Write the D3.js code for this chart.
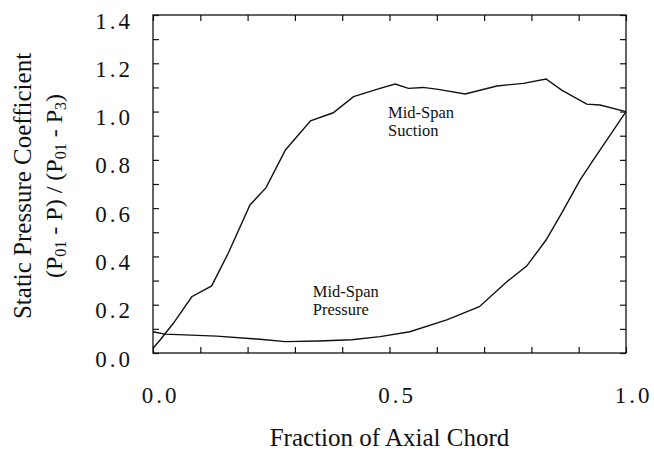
<!DOCTYPE html>
<html><head><meta charset="utf-8">
<script src="https://cdn.jsdelivr.net/npm/d3@7"></script>
<style>
html,body{margin:0;padding:0;background:#fff;}
svg{display:block;}
text{font-family:"Liberation Serif","Times New Roman",serif;fill:#111;}
</style></head>
<body><svg id="chart" width="654" height="459"></svg>
<script>
// Data
const suctionX = [0, 0.015, 0.043, 0.082, 0.124, 0.159, 0.205, 0.239, 0.28, 0.333, 0.381, 0.424, 0.48, 0.512, 0.54, 0.571, 0.603, 0.66, 0.727, 0.783, 0.831, 0.864, 0.917, 0.945, 1.0];
const suctionY = [0.02, 0.054, 0.123, 0.233, 0.278, 0.413, 0.613, 0.685, 0.841, 0.962, 0.995, 1.062, 1.096, 1.114, 1.096, 1.1, 1.092, 1.073, 1.106, 1.117, 1.135, 1.089, 1.031, 1.027, 1.0];
const pressureX = [0, 0.025, 0.135, 0.226, 0.28, 0.35, 0.42, 0.48, 0.543, 0.621, 0.69, 0.748, 0.79, 0.831, 0.864, 0.903, 0.931, 1.0];
const pressureY = [0.088, 0.078, 0.07, 0.057, 0.047, 0.05, 0.055, 0.068, 0.088, 0.137, 0.192, 0.295, 0.36, 0.468, 0.579, 0.717, 0.8, 1.0];
const xTickLabels = [0, 0.5, 1.0];
const yTickLabels = [0, 0.2, 0.4, 0.6, 0.8, 1.0, 1.2, 1.4];
const xMinorTicks = d3.range(0, 1.0001, 0.1);
const yMinorTicks = d3.range(0, 1.4001, 0.1);

const FONT = '"Liberation Serif","Times New Roman",serif';
const svg = d3.select("#chart");
const L = 153, R = 626, T = 15, B = 353;
const x = d3.scaleLinear().domain([0, 1]).range([L, R]);
const y = d3.scaleLinear().domain([0, 1.4]).range([B, T]);

// frame
svg.append("rect").attr("x", L).attr("y", T).attr("width", R - L).attr("height", B - T)
  .attr("fill", "none").attr("stroke", "#111").attr("stroke-width", 1.3);

// ticks (inward) on all four sides
function tickAxis(axis, transform) {
  const g = svg.append("g").attr("transform", transform).call(axis);
  g.select(".domain").remove();
  g.selectAll("line").attr("stroke", "#111").attr("stroke-width", 1.2);
  g.selectAll("text").remove();
  return g;
}
tickAxis(d3.axisBottom(x).tickValues(xMinorTicks).tickSize(-6), `translate(0,${B})`);
tickAxis(d3.axisTop(x).tickValues(xMinorTicks).tickSize(-6), `translate(0,${T})`);
tickAxis(d3.axisLeft(y).tickValues(yMinorTicks).tickSize(-6), `translate(${L},0)`);
tickAxis(d3.axisRight(y).tickValues(yMinorTicks).tickSize(-6), `translate(${R},0)`);

// tick labels
const xl = svg.append("g").attr("transform", `translate(0,${B})`)
  .call(d3.axisBottom(x).tickValues(xTickLabels).tickSize(0).tickFormat(d3.format(".1f")));
xl.select(".domain").remove();
xl.attr("font-family", FONT);
xl.selectAll("text").attr("y", 50).attr("dy", 0).attr("dx", 7)
  .style("font-family", FONT).style("font-size", "23px").style("letter-spacing", "3px").attr("fill", "#111");

const yl = svg.append("g").attr("transform", `translate(${L},0)`)
  .call(d3.axisLeft(y).tickValues(yTickLabels).tickSize(0).tickFormat(d3.format(".1f")));
yl.select(".domain").remove();
yl.attr("font-family", FONT);
yl.selectAll("text").attr("x", -20).attr("dy", 13)
  .style("font-family", FONT).style("font-size", "23px").style("letter-spacing", "3px").attr("fill", "#111");

// curves
const line = d3.line().x(d => x(d[0])).y(d => y(d[1]));
svg.append("path").datum(suctionX.map((v, i) => [v, suctionY[i]]))
  .attr("d", line).attr("fill", "none").attr("stroke", "#111").attr("stroke-width", 1.4);
svg.append("path").datum(pressureX.map((v, i) => [v, pressureY[i]]))
  .attr("d", line).attr("fill", "none").attr("stroke", "#111").attr("stroke-width", 1.4);

// annotations
function label(fx, fy, lines) {
  lines.forEach((s, i) => svg.append("text").attr("x", x(fx)).attr("y", y(fy) + i * 18)
    .style("font-size", "16.5px").text(s));
}
label(0.497, 0.975, ["Mid-Span", "Suction"]);
label(0.338, 0.232, ["Mid-Span", "Pressure"]);

// axis titles
svg.append("text").attr("x", (L + R) / 2).attr("y", 446).attr("text-anchor", "middle")
  .style("font-size", "25px").text("Fraction of Axial Chord");

const yt = svg.append("g").attr("transform", "translate(31,186) rotate(-90)");
yt.append("text").attr("text-anchor", "middle").style("font-size", "25px").text("Static Pressure Coefficient");
const t2 = yt.append("text").attr("y", 31).attr("text-anchor", "middle").style("font-size", "24px");
t2.append("tspan").text("(P");
t2.append("tspan").attr("baseline-shift", "-28%").style("font-size", "16px").text("01");
t2.append("tspan").text(" - P) / (P");
t2.append("tspan").attr("baseline-shift", "-28%").style("font-size", "16px").text("01");
t2.append("tspan").text(" - P");
t2.append("tspan").attr("baseline-shift", "-28%").style("font-size", "16px").text("3");
t2.append("tspan").text(")");
</script></body></html>
